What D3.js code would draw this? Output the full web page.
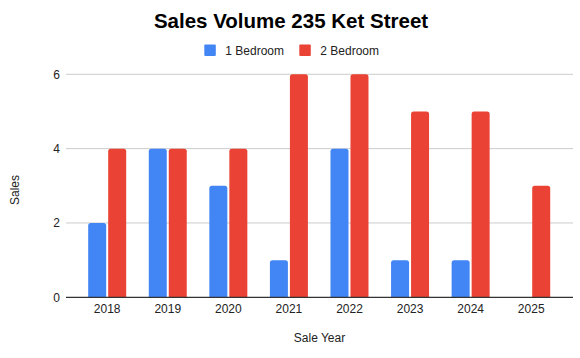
<!DOCTYPE html>
<html>
<head>
<meta charset="utf-8">
<script src="https://cdn.jsdelivr.net/npm/d3@7"></script>
<style>
  html, body { margin: 0; padding: 0; background: #fff; }
  svg { display: block; font-family: "Liberation Sans", Arial, sans-serif; }
</style>
</head>
<body>
<svg id="chart" width="580" height="358"></svg>
<script>
const years = ["2018", "2019", "2020", "2021", "2022", "2023", "2024", "2025"];
const seriesNames = ["1 Bedroom", "2 Bedroom"];
const oneBedroom = [2, 4, 3, 1, 4, 1, 1, 0];
const twoBedroom = [4, 4, 4, 6, 6, 5, 5, 3];
const yTicks = [0, 2, 4, 6];
const colors = ["#4285F4", "#EA4335"];

const svg = d3.select("#chart");
const plotLeft = 66, plotRight = 573;

const x0 = d3.scaleBand().domain(years).range([76.9, 561.5]);
const groupW = 38;
const x1 = d3.scaleBand().domain(seriesNames).range([0, groupW]).paddingInner(0.1);
const y = d3.scaleLinear().domain([0, 6]).range([297.3, 74.3]);

// gridlines
svg.append("g").selectAll("line").data(yTicks.filter(d => d !== 0)).join("line")
  .attr("x1", plotLeft).attr("x2", plotRight)
  .attr("y1", d => y(d)).attr("y2", d => y(d))
  .attr("stroke", "#cccccc").attr("stroke-width", 1);

// y tick labels
svg.append("g").selectAll("text").data(yTicks).join("text")
  .attr("x", 60).attr("y", d => y(d)).attr("dy", "0.35em")
  .attr("text-anchor", "end").attr("font-size", 12).attr("fill", "#222")
  .text(d => d);

// bars
const data = years.map((yr, i) => ({ year: yr, values: [oneBedroom[i], twoBedroom[i]] }));
function topRounded(x, yTop, w, h, r) {
  if (h <= 0) return "";
  r = Math.min(r, h, w / 2);
  return `M${x},${yTop + h}V${yTop + r}Q${x},${yTop} ${x + r},${yTop}H${x + w - r}Q${x + w},${yTop} ${x + w},${yTop + r}V${yTop + h}Z`;
}
const groups = svg.append("g").selectAll("g").data(data).join("g")
  .attr("transform", d => `translate(${x0(d.year) + (x0.bandwidth() - groupW) / 2},0)`);
groups.selectAll("path").data(d => d.values.map((v, k) => ({ v, k }))).join("path")
  .attr("d", d => topRounded(x1(seriesNames[d.k]), y(d.v), x1.bandwidth(), y(0) - y(d.v), 2.5))
  .attr("fill", d => colors[d.k]);

// baseline
svg.append("line").attr("x1", plotLeft).attr("x2", plotRight)
  .attr("y1", y(0)).attr("y2", y(0)).attr("stroke", "#333").attr("stroke-width", 1.3);

// x tick labels
svg.append("g").selectAll("text").data(years).join("text")
  .attr("x", d => x0(d) + x0.bandwidth() / 2).attr("y", 313)
  .attr("text-anchor", "middle").attr("font-size", 12).attr("fill", "#222")
  .text(d => d);

// title
svg.append("text").attr("x", 291).attr("y", 28.3).attr("text-anchor", "middle")
  .attr("font-size", 20.5).attr("font-weight", "bold").attr("fill", "#000")
  .text("Sales Volume 235 Ket Street");

// legend
const legendItems = [{ name: seriesNames[0], x: 204.3 }, { name: seriesNames[1], x: 299.3 }];
const lg = svg.append("g").selectAll("g").data(legendItems).join("g");
lg.append("rect").attr("x", d => d.x).attr("y", 44.5).attr("width", 11.5).attr("height", 11.5)
  .attr("rx", 1).attr("fill", (d, i) => colors[i]);
lg.append("text").attr("x", d => d.x + 21).attr("y", 54.5)
  .attr("font-size", 12).attr("fill", "#222").text(d => d.name);

// axis titles
svg.append("text").attr("x", (plotLeft + plotRight) / 2).attr("y", 342)
  .attr("text-anchor", "middle").attr("font-size", 12).attr("fill", "#222").text("Sale Year");
svg.append("text").attr("transform", "translate(18.5,190) rotate(-90)")
  .attr("text-anchor", "middle").attr("font-size", 12).attr("fill", "#222").text("Sales");
</script>
</body>
</html>
